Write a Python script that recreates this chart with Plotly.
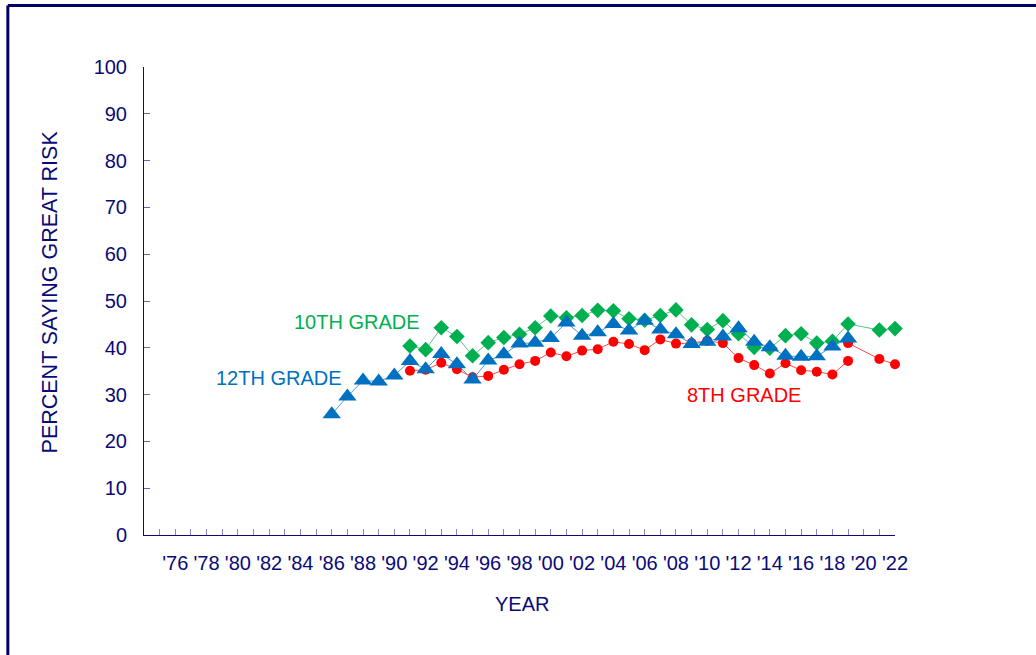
import plotly.graph_objects as go

# ---- data ----
years_12 = list(range(1986, 2020))
grade12 = [25.8, 29.6, 33.0, 32.8, 34.1, 37.2, 35.4, 38.7, 36.5, 33.2,
           37.3, 38.6, 40.9, 41.1, 42.1, 45.4, 42.6, 43.3, 45.1, 43.7,
           45.8, 43.9, 42.9, 40.8, 41.3, 42.4, 44.2, 41.3, 40.1, 38.3,
           38.1, 38.2, 40.3, 42.0]

years_10 = list(range(1991, 2020)) + [2021, 2022]
grade10 = [40.4, 39.6, 44.3, 42.4, 38.3, 41.1, 42.2, 42.9, 44.3, 46.8,
           46.4, 46.9, 48.0, 47.9, 46.2, 45.9, 46.9, 48.1, 44.9, 43.9,
           45.8, 43.0, 40.1, 39.9, 42.6, 43.0, 41.0, 41.4, 45.1, 43.8, 44.1]

years_8a = list(range(1991, 2020))
grade8a = [35.1, 35.3, 36.8, 35.4, 33.7, 34.0, 35.3, 36.5, 37.2, 39.0,
           38.2, 39.4, 39.7, 41.3, 40.8, 39.5, 41.8, 40.9, 41.0, 41.5,
           41.0, 37.8, 36.3, 34.5, 36.7, 35.2, 34.9, 34.3, 37.2]
years_8b = [2019, 2021, 2022]
grade8b = [41.0, 37.6, 36.5]

tick_years = list(range(1974, 2023))
tick_text = ["'" + str(y)[2:] if (y % 2 == 0 and y >= 1976) else "" for y in tick_years]
y_ticks = list(range(0, 101, 10))

NAVY = "#0a0a78"
FONT = "Liberation Sans, Arial, sans-serif"
GREEN = "#00B050"
BLUE = "#0070C0"
RED = "#FF0000"

fig = go.Figure()

fig.add_trace(go.Scatter(
    x=years_10, y=grade10, mode="lines+markers", cliponaxis=False,
    line=dict(color="#5cc48a", width=1),
    marker=dict(symbol="diamond", size=12, color=GREEN),
    showlegend=False))

fig.add_trace(go.Scatter(
    x=years_8a, y=grade8a, mode="lines+markers", cliponaxis=False,
    line=dict(color="#ff4a4a", width=1),
    marker=dict(symbol="circle", size=10, color=RED),
    showlegend=False))
fig.add_trace(go.Scatter(
    x=years_8b, y=grade8b, mode="lines+markers", cliponaxis=False,
    line=dict(color="#ff4a4a", width=1),
    marker=dict(symbol="circle", size=10, color=RED),
    showlegend=False))

fig.add_trace(go.Scatter(
    x=years_12, y=grade12, mode="lines+markers", cliponaxis=False,
    line=dict(color="#4f95d0", width=1),
    marker=dict(symbol="triangle-up", size=16, color=BLUE),
    showlegend=False))

fig.update_layout(
    width=1036, height=655,
    margin=dict(l=144, r=141, t=67, b=120, pad=0),
    paper_bgcolor="white", plot_bgcolor="white",
    font=dict(family=FONT, size=20, color=NAVY),
    xaxis=dict(range=[1974, 2022], tickmode="array", tickvals=tick_years,
               ticktext=tick_text, ticks="inside", ticklen=6, tickwidth=1,
               tickcolor="#8a8ac0", showline=True, linecolor=NAVY, linewidth=1,
               showgrid=False, zeroline=False, tickangle=0,
               tickfont=dict(size=20, color=NAVY), ticklabelstandoff=10),
    yaxis=dict(range=[0, 100], tickmode="array", tickvals=y_ticks,
               ticks="inside", ticklen=6, tickwidth=1, tickcolor="#6a6aa8",
               showline=True, linecolor=NAVY, linewidth=1,
               showgrid=False, zeroline=False,
               tickfont=dict(size=20, color=NAVY), ticklabelstandoff=12),
    annotations=[
        dict(text="10TH GRADE", x=1987.6, y=45.5, xref="x", yref="y",
             showarrow=False, font=dict(size=20, color=GREEN)),
        dict(text="12TH GRADE", x=1982.6, y=33.5, xref="x", yref="y",
             showarrow=False, font=dict(size=20, color=BLUE)),
        dict(text="8TH GRADE", x=2012.35, y=29.9, xref="x", yref="y",
             showarrow=False, font=dict(size=20, color=RED)),
        dict(text="PERCENT SAYING GREAT RISK", x=-0.1247, y=0.519,
             xref="paper", yref="paper", showarrow=False, textangle=-90,
             xanchor="center", yanchor="middle",
             font=dict(size=21.5, color=NAVY)),
        dict(text="YEAR", x=0.5037, y=-0.147, xref="paper", yref="paper",
             xanchor="center", yanchor="middle",
             showarrow=False, font=dict(size=20, color=NAVY)),
    ],
    shapes=[
        dict(type="line", xref="paper", yref="paper",
             x0=-0.1813, x1=-0.1813, y0=-0.4, y1=1.1314,
             line=dict(color="#000066", width=3)),
        dict(type="line", xref="paper", yref="paper",
             x0=-0.1813, x1=1.3, y0=1.1314, y1=1.1314,
             line=dict(color="#000066", width=3)),
    ],
)

fig.write_html("out.html", include_plotlyjs=True,
               config={"displayModeBar": False},
               post_script="document.body.style.margin='0';document.body.style.overflow='hidden';")
